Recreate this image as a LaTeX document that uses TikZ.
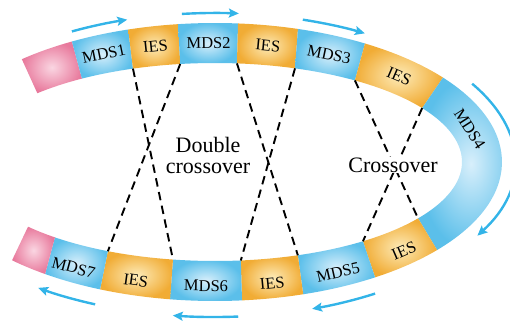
\documentclass[tikz,border=0pt]{standalone}
\usepackage{fontspec}
\setmainfont{Liberation Serif}
\usepackage{tikz}
\usetikzlibrary{arrows.meta,calc}
\definecolor{mdsedge}{HTML}{5BBFEA}
\definecolor{mdsglow}{HTML}{D8EFFB}
\definecolor{iesedge}{HTML}{F1AC35}
\definecolor{iesglow}{HTML}{FDEBB8}
\definecolor{tailedge}{HTML}{E8799C}
\definecolor{tailglow}{HTML}{FAD6E2}
\definecolor{flow}{HTML}{33B4E8}
\tikzset{
  seg/.style={inner color=#1glow, outer color=#1edge},
  seglabel/.style={font=\fontsize{16.5}{18}\selectfont, inner sep=0pt},
  flowarrow/.style={draw=flow, line width=2.4pt, -{Stealth[length=10pt,width=9pt,inset=2pt]}},
  >=Stealth,
}

\begin{document}
\begin{tikzpicture}[
  x=1pt, y=1pt,
  pairing/.style={dash pattern=on 8.5pt off 5.5pt, line width=1.9pt},
  bigtext/.style={font=\fontsize{22}{21}\selectfont}
]
\useasboundingbox (0,0) rectangle (510,324);
\coordinate (C) at (215,162);

% the ring of segments
\foreach \ai/\ao/\bi/\bo/\kind in {
  136/132.3/122.6/119.9/tail, 122.6/119.9/109.4/107.6/mds,
  109.4/107.6/98.1/97.4/ies, 98.1/97.4/84.9/85.4/mds,
  84.9/85.4/71.1/73.2/ies, 71.1/73.2/55.5/58.5/mds,
  55.5/58.5/33/37.4/ies, 33/37.4/-34.7/-39.3/mds,
  -34.7/-39.3/-53.2/-56.1/ies, -53.2/-56.1/-70.4/-72.1/mds,
  -70.4/-72.1/-84/-84.6/ies, -84/-84.6/-99.8/-99/mds,
  -99.8/-99/-115.7/-113.6/ies, -115.7/-113.6/-130.4/-126.3/mds,
  -130.4/-126.3/-139.2/-135/tail}
  \shade[seg=\kind] ($(C)+(\ao:287 and 139)$)
    arc[start angle=\ao, end angle=\bo, x radius=287, y radius=139]
    -- ($(C)+(\bi:247 and 99)$)
    arc[start angle=\bi, end angle=\ai, x radius=247, y radius=99] -- cycle;

% junctions on the inner edge
\coordinate (tj2) at ($(C)+(109.4:247 and 99)$);
\coordinate (tj3) at ($(C)+(98.1:247 and 99)$);
\coordinate (tj4) at ($(C)+(84.9:247 and 99)$);
\coordinate (tj5) at ($(C)+(71.1:247 and 99)$);
\coordinate (tj6) at ($(C)+(55.5:247 and 99)$);
\coordinate (tj7) at ($(C)+(33:247 and 99)$);
\coordinate (bj7) at ($(C)+(-34.7:247 and 99)$);
\coordinate (bj6) at ($(C)+(-53.2:247 and 99)$);
\coordinate (bj5) at ($(C)+(-70.4:247 and 99)$);
\coordinate (bj4) at ($(C)+(-84:247 and 99)$);
\coordinate (bj3) at ($(C)+(-99.8:247 and 99)$);
\coordinate (bj2) at ($(C)+(-115.7:247 and 99)$);

\draw[pairing] (tj2) -- (bj3);
\draw[pairing] (tj3) -- (bj2);
\draw[pairing] (tj4) -- (bj5);
\draw[pairing] (tj5) -- (bj4);
\draw[pairing] (tj6) -- (bj7);
\draw[pairing] (tj7) -- (bj6);

\node[bigtext, align=center] (double) at (208,169) {Double\\crossover};
\node[bigtext, fill=white, inner sep=1pt] (single) at (393,159) {Crossover};

% labels
\foreach \t/\txt/\nm in {114.8/MDS1/m1, 103/IES/i1, 91.4/MDS2/m2,
  78.5/IES/i2, 64.5/MDS3/m3, 46/IES/i3, 16/MDS4/m4}
  \node[seglabel, rotate={atan2(-119*cos(\t),267*sin(\t))}] (\nm)
    at ($(C)+(\t:265 and 119)$) {\txt};
\foreach \t/\txt/\nm in {-45.8/IES/i4, -63/MDS5/m5, -77.8/IES/i5,
  -91.9/MDS6/m6, -107/IES/i6, -121.5/MDS7/m7}
  \node[seglabel, rotate={atan2(-119*cos(\t),267*sin(\t))+180}] (\nm)
    at ($(C)+(\t:271 and 124)$) {\txt};

% direction arrows
\draw[flowarrow] ($(C)+(118.8:297 and 149)$) arc[start angle=118.8, end angle=107.2, x radius=297, y radius=149];
\draw[flowarrow] ($(C)+(96.4:297 and 149)$) arc[start angle=96.4, end angle=85.4, x radius=297, y radius=149];
\draw[flowarrow] ($(C)+(72.8:297 and 149)$) arc[start angle=72.8, end angle=59.7, x radius=297, y radius=149];
\draw[flowarrow] ($(C)+(31:300 and 152)$) arc[start angle=31, end angle=-29, x radius=300, y radius=152];
\draw[flowarrow] ($(C)+(-58.1:303 and 155)$) arc[start angle=-58.1, end angle=-71.3, x radius=303, y radius=155];
\draw[flowarrow] ($(C)+(-85.6:303 and 155)$) arc[start angle=-85.6, end angle=-98, x radius=303, y radius=155];
\draw[flowarrow] ($(C)+(-113.3:303 and 155)$) arc[start angle=-113.3, end angle=-125.7, x radius=303, y radius=155];
\end{tikzpicture}
\end{document}
